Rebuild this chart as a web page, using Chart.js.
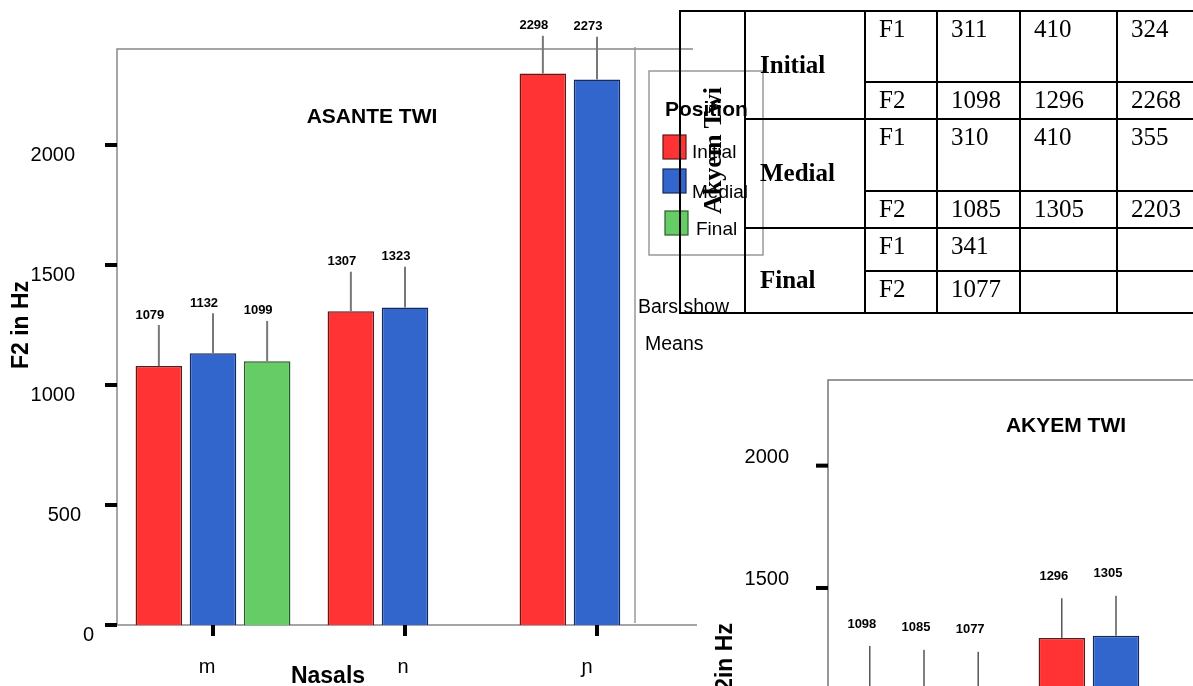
<!DOCTYPE html>
<html>
<head>
<meta charset="utf-8">
<title>F2 of nasals by position</title>
<script src="https://cdn.jsdelivr.net/npm/chart.js@4.4.1/dist/chart.umd.min.js"></script>
<style>
  html, body { margin: 0; padding: 0; background: #fff; }
  body { width: 1193px; height: 686px; overflow: hidden; position: relative; }
  canvas { position: absolute; }
  #asante { left: 0; top: 0; }
  #akyem { left: 700px; top: 360px; }
  #tbl {
    position: absolute; left: 679px; top: 10px;
    border-collapse: collapse; table-layout: fixed; width: 549px;
    font-family: "Liberation Serif", "Times New Roman", serif;
    font-size: 25px; line-height: 1.15; color: #000; background: transparent;
  }
  #tbl td { border: 2px solid #000; padding: 3px 0 0 13px; vertical-align: top; white-space: nowrap; overflow: hidden; }
  #tbl td.pos { font-weight: bold; vertical-align: middle; padding: 0 0 0 14px; }
  #tbl td.pos.last { padding-top: 20px; }
  #tbl td.side { padding: 0 0 16px 0; vertical-align: middle; text-align: center; }
  .vt { display: inline-block; writing-mode: vertical-rl; transform: rotate(180deg); font-weight: bold; font-size: 26px; }
</style>
</head>
<body>
<canvas id="asante" width="1193" height="686"></canvas>
<canvas id="akyem" width="800" height="700"></canvas>
<table id="tbl"></table>

<script>
// ---- data ----
const nasals = ['m', 'n', 'ɲ'];
const positions = ['Initial', 'Medial', 'Final'];

// Asante Twi: mean F2 (Hz) per nasal, by position
const asanteInitial = [1079, 1307, 2298];
const asanteMedial  = [1132, 1323, 2273];
const asanteFinal   = [1099, null, null];
// upper ends of the error whiskers (Hz)
const asanteInitialHi = [1250, 1472, 2455];
const asanteMedialHi  = [1299, 1493, 2451];
const asanteFinalHi   = [1267, null, null];

// Akyem Twi: F1 / F2 means (Hz) per nasal, by position
const akyemF1Initial = [311, 410, 324];
const akyemF2Initial = [1098, 1296, 2268];
const akyemF1Medial  = [310, 410, 355];
const akyemF2Medial  = [1085, 1305, 2203];
const akyemF1Final   = [341, null, null];
const akyemF2Final   = [1077, null, null];
// upper ends of the error whiskers (Hz)
const akyemInitialHi = [1263, 1458, 2440];
const akyemMedialHi  = [1247, 1468, 2390];
const akyemFinalHi   = [1239, null, null];

const yTickValues = [0, 500, 1000, 1500, 2000];

// ---- colours ----
const fills   = ['#ff3333', '#3366cc', '#66cc66'];
const borders = ['#5c1a1a', '#16295a', '#2a5a2a'];

const SANS = '"Liberation Sans", Arial, Helvetica, sans-serif';

function drawText(ctx, txt, x, y, font, align, rot) {
  ctx.save();
  ctx.translate(x, y);
  if (rot) ctx.rotate(rot);
  ctx.font = font;
  ctx.fillStyle = '#000';
  ctx.textAlign = align || 'center';
  ctx.textBaseline = 'middle';
  ctx.fillText(txt, 0, 0);
  ctx.restore();
}

// Frame, ticks, titles, whiskers, value labels and legend in the SPSS style
const spssDecor = {
  id: 'spssDecor',
  beforeDatasetsDraw(chart, args, o) {
    const ctx = chart.ctx, a = chart.chartArea, ys = chart.scales.y, xs = chart.scales.x;
    ctx.save();
    ctx.strokeStyle = o.frameColor;
    ctx.lineWidth = 1.5;
    ctx.beginPath();
    ctx.moveTo(a.left, a.bottom);
    ctx.lineTo(a.left, a.top);
    ctx.lineTo(a.right + o.topExtend, a.top);
    ctx.moveTo(a.left, a.bottom);
    ctx.lineTo(a.right + o.bottomExtend, a.bottom);
    ctx.stroke();
    if (o.divider) {
      ctx.strokeStyle = '#999';
      ctx.beginPath();
      ctx.moveTo(o.divider.x, o.divider.y1);
      ctx.lineTo(o.divider.x, o.divider.y2);
      ctx.stroke();
    }
    ctx.fillStyle = '#000';
    o.yTicks.forEach(v => {
      const py = ys.getPixelForValue(v);
      ctx.fillStyle = '#000';
      ctx.fillRect(a.left - 12, py - 2, 12, 4);
      drawText(ctx, String(v), o.yLabelRight + (o.yLabelShift[v] || 0), py + o.yLabelDy, '20px ' + SANS, 'right');
    });
    chart.data.labels.forEach((lab, j) => {
      const px = xs.getPixelForValue(j);
      ctx.fillStyle = '#000';
      ctx.fillRect(px - 2, a.bottom, 4, 11);
      drawText(ctx, lab, px + (o.xLabelShift[j] || 0), a.bottom + o.xLabelDy, '20px ' + SANS);
    });
    drawText(ctx, o.title, o.titleX, o.titleY, 'bold 21px ' + SANS);
    drawText(ctx, o.xTitle, o.xTitleX, o.xTitleY, 'bold 23px ' + SANS);
    drawText(ctx, o.yTitle, o.yTitleX, o.yTitleY, 'bold 23px ' + SANS, 'center', -Math.PI / 2);
    ctx.restore();
  },
  afterDatasetsDraw(chart, args, o) {
    const ctx = chart.ctx, ys = chart.scales.y;
    ctx.save();
    chart.data.datasets.forEach((ds, i) => {
      const meta = chart.getDatasetMeta(i);
      ds.data.forEach((v, j) => {
        if (v == null) return;
        const bar = meta.data[j];
        const yTop = ys.getPixelForValue(ds.errHi[j]);
        ctx.strokeStyle = o.whiskerColor;
        ctx.lineWidth = o.whiskerWidth;
        ctx.beginPath();
        ctx.moveTo(bar.x, bar.y);
        ctx.lineTo(bar.x, yTop);
        ctx.stroke();
        drawText(ctx, String(v), bar.x + o.valueDx, yTop - o.valueGap, 'bold 13px ' + SANS);
      });
    });
    if (o.legend) {
      const L = o.legend;
      ctx.strokeStyle = '#999';
      ctx.lineWidth = 1.5;
      ctx.strokeRect(L.x, L.y, L.w, L.h);
      drawText(ctx, L.title, L.titleX, L.titleY, 'bold 21px ' + SANS, 'left');
      chart.data.datasets.forEach((ds, i) => {
        const it = L.items[i];
        ctx.fillStyle = ds.backgroundColor;
        ctx.fillRect(it.sx, it.sy, 23, 24);
        ctx.strokeStyle = ds.borderColor;
        ctx.lineWidth = 1.2;
        ctx.strokeRect(it.sx, it.sy, 23, 24);
        drawText(ctx, ds.label, it.tx, it.ty, '19px ' + SANS, 'left');
      });
    }
    (o.notes || []).forEach(n => drawText(ctx, n.text, n.x, n.y, '19.5px ' + SANS, 'left'));
    ctx.restore();
  }
};

function makeDatasets(values, highs) {
  return positions.map((p, i) => ({
    label: p,
    data: values[i],
    errHi: highs[i],
    backgroundColor: fills[i],
    borderColor: borders[i],
    borderWidth: 1.5,
    categoryPercentage: 0.846,
    barPercentage: 0.86
  }));
}

function baseOptions(yMax, pad, decor) {
  return {
    responsive: false,
    animation: false,
    events: [],
    layout: { padding: pad },
    scales: {
      x: { display: false, offset: true },
      y: { display: false, min: 0, max: yMax }
    },
    plugins: { legend: { display: false }, tooltip: { enabled: false }, spssDecor: decor }
  };
}

// ---- Asante Twi chart ----
new Chart(document.getElementById('asante'), {
  type: 'bar',
  plugins: [spssDecor],
  data: {
    labels: nasals,
    datasets: makeDatasets([asanteInitial, asanteMedial, asanteFinal],
                           [asanteInitialHi, asanteMedialHi, asanteFinalHi])
  },
  options: baseOptions(2400, { left: 117, top: 49, right: 500, bottom: 61 }, {
    frameColor: '#888', topExtend: 0, bottomExtend: 4,
    divider: { x: 635, y1: 47, y2: 623 },
    yTicks: yTickValues, yLabelRight: 75, yLabelDy: 10, yLabelShift: { 500: 6, 0: 19 },
    xLabelShift: [-6, -2, -10], xLabelDy: 42,
    title: 'ASANTE TWI', titleX: 372, titleY: 117,
    xTitle: 'Nasals', xTitleX: 328, xTitleY: 677,
    yTitle: 'F2 in Hz', yTitleX: 22, yTitleY: 325,
    whiskerColor: '#777', whiskerWidth: 2, valueDx: -9, valueGap: 10,
    legend: {
      x: 649, y: 71, w: 114, h: 184, title: 'Position', titleX: 665, titleY: 110,
      items: [
        { sx: 663, sy: 135, tx: 692, ty: 153 },
        { sx: 663, sy: 169, tx: 692, ty: 193 },
        { sx: 665, sy: 211, tx: 696, ty: 230 }
      ]
    },
    notes: [{ text: 'Bars show', x: 638, y: 308 }, { text: 'Means', x: 645, y: 345 }]
  })
});

// ---- Akyem Twi chart ----
new Chart(document.getElementById('akyem'), {
  type: 'bar',
  plugins: [spssDecor],
  data: {
    labels: nasals,
    datasets: makeDatasets([akyemF2Initial, akyemF2Medial, akyemF2Final],
                           [akyemInitialHi, akyemMedialHi, akyemFinalHi])
  },
  options: baseOptions(2350, { left: 128, top: 20, right: 96, bottom: 105 }, {
    frameColor: '#777', topExtend: 200, bottomExtend: 0,
    yTicks: yTickValues, yLabelRight: 89, yLabelDy: -8.5, yLabelShift: {},
    xLabelShift: [-6, -2, -10], xLabelDy: 42,
    title: 'AKYEM TWI', titleX: 366, titleY: 66,
    xTitle: 'Nasals', xTitleX: 210, xTitleY: 647,
    yTitle: 'F2in Hz', yTitleX: 26, yTitleY: 304,
    whiskerColor: '#000', whiskerWidth: 1, valueDx: -8, valueGap: 22
  })
});

// ---- Akyem Twi formant table ----
const tableRows = [
  { pos: positions[0], f1: akyemF1Initial, f2: akyemF2Initial },
  { pos: positions[1], f1: akyemF1Medial,  f2: akyemF2Medial },
  { pos: positions[2], f1: akyemF1Final,   f2: akyemF2Final }
];
const rowHeights = [[71, 37], [72, 37], [43, 42]];
const cell = v => '<td>' + (v == null ? '' : v) + '</td>';
let html = '<colgroup><col style="width:65px"><col style="width:120px"><col style="width:72px">' +
           '<col style="width:83px"><col style="width:97px"><col style="width:110px"></colgroup>';
tableRows.forEach((r, k) => {
  html += '<tr style="height:' + rowHeights[k][0] + 'px">';
  if (k === 0) html += '<td rowspan="6" class="side"><span class="vt">Akyem Twi</span></td>';
  html += '<td rowspan="2" class="pos' + (k === 2 ? ' last' : '') + '">' + r.pos + '</td>';
  html += '<td>F1</td>' + r.f1.map(cell).join('') + '</tr>';
  html += '<tr style="height:' + rowHeights[k][1] + 'px"><td>F2</td>' + r.f2.map(cell).join('') + '</tr>';
});
document.getElementById('tbl').innerHTML = html;
</script>
</body>
</html>
